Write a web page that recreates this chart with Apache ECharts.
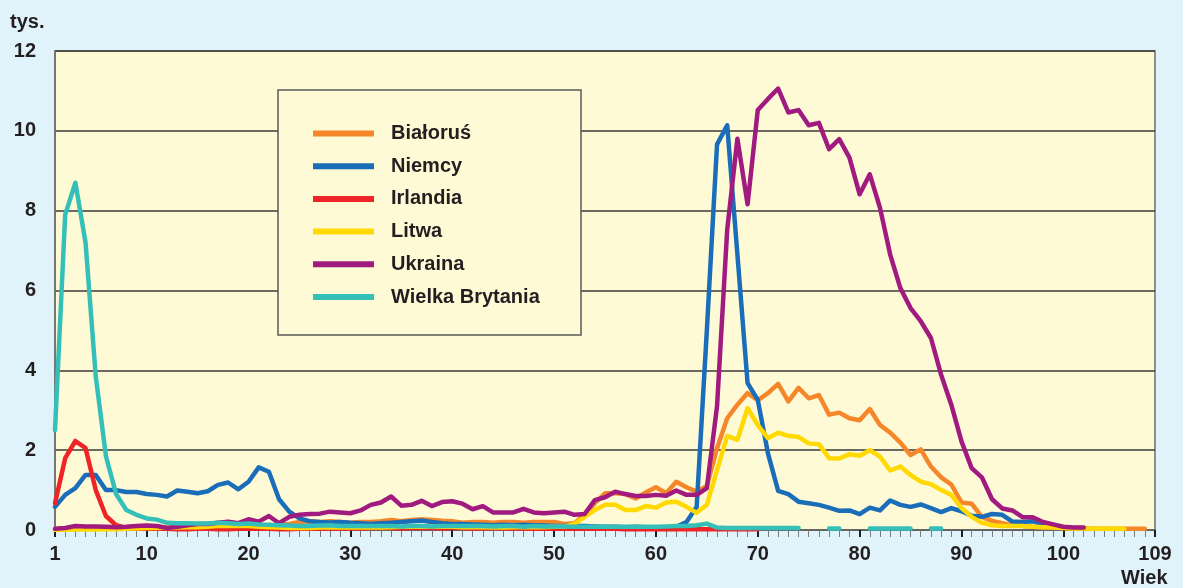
<!DOCTYPE html>
<html>
<head>
<meta charset="utf-8">
<script src="https://cdn.jsdelivr.net/npm/echarts@6/dist/echarts.min.js"></script>
<style>
  html, body { margin: 0; padding: 0; background: #e0f3fb; }
  #chart { width: 1183px; height: 588px; }
</style>
</head>
<body>
<div id="chart"></div>
<script>
// Age in years (1 … 108)
const ages = [
  1, 2, 3, 4, 5, 6, 7, 8, 9, 10,
  11, 12, 13, 14, 15, 16, 17, 18, 19, 20,
  21, 22, 23, 24, 25, 26, 27, 28, 29, 30,
  31, 32, 33, 34, 35, 36, 37, 38, 39, 40,
  41, 42, 43, 44, 45, 46, 47, 48, 49, 50,
  51, 52, 53, 54, 55, 56, 57, 58, 59, 60,
  61, 62, 63, 64, 65, 66, 67, 68, 69, 70,
  71, 72, 73, 74, 75, 76, 77, 78, 79, 80,
  81, 82, 83, 84, 85, 86, 87, 88, 89, 90,
  91, 92, 93, 94, 95, 96, 97, 98, 99, 100,
  101, 102, 103, 104, 105, 106, 107, 108
];

// Labelled ticks on the age axis and on the value axis (thousands)
const xTickLabels = [1, 10, 20, 30, 40, 50, 60, 70, 80, 90, 100, 109];
const yMax = 12;
const yStep = 2;

// Number of people, thousands, by age (null = no value)
const bialorus = [
  0.02, 0.03, 0.03, 0.04, 0.04, 0.03, 0.03, 0.04, 0.04, 0.05,
  0.05, 0.06, 0.06, 0.07, 0.07, 0.08, 0.08, 0.10, 0.10, 0.10,
  0.10, 0.10, 0.12, 0.15, 0.20, 0.22, 0.20, 0.22, 0.20, 0.18,
  0.20, 0.20, 0.22, 0.25, 0.22, 0.25, 0.27, 0.25, 0.23, 0.22,
  0.18, 0.20, 0.20, 0.18, 0.20, 0.20, 0.18, 0.20, 0.20, 0.20,
  0.15, 0.17, 0.38, 0.67, 0.92, 0.92, 0.90, 0.79, 0.94, 1.07,
  0.92, 1.21, 1.07, 0.96, 1.10, 2.05, 2.80, 3.14, 3.43, 3.25,
  3.43, 3.66, 3.22, 3.56, 3.30, 3.38, 2.89, 2.94, 2.80, 2.75,
  3.03, 2.63, 2.44, 2.19, 1.88, 2.02, 1.59, 1.32, 1.14, 0.69,
  0.66, 0.33, 0.23, 0.17, 0.12, 0.10, 0.08, 0.07, 0.06, 0.05,
  0.04, 0.04, 0.03, 0.03, 0.03, 0.03, 0.03, 0.03
];

const niemcy = [
  0.58, 0.88, 1.05, 1.38, 1.38, 1.00, 1.00, 0.95, 0.95, 0.90,
  0.88, 0.84, 0.99, 0.96, 0.92, 0.97, 1.13, 1.19, 1.02, 1.21,
  1.57, 1.46, 0.77, 0.46, 0.29, 0.22, 0.20, 0.19, 0.20, 0.18,
  0.17, 0.15, 0.17, 0.18, 0.20, 0.22, 0.24, 0.20, 0.17, 0.15,
  0.15, 0.14, 0.13, 0.12, 0.13, 0.12, 0.13, 0.12, 0.11, 0.10,
  0.10, 0.10, 0.10, 0.09, 0.08, 0.08, 0.07, 0.08, 0.07, 0.06,
  0.07, 0.08, 0.20, 0.58, 5.00, 9.66, 10.14, 6.90, 3.68, 3.26,
  1.92, 0.98, 0.90, 0.71, 0.67, 0.63, 0.56, 0.48, 0.49, 0.40,
  0.56, 0.49, 0.74, 0.63, 0.58, 0.64, 0.55, 0.45, 0.55, 0.47,
  0.36, 0.33, 0.40, 0.38, 0.21, 0.20, 0.22, 0.15
];

const irlandia = [
  0.67, 1.80, 2.23, 2.05, 1.00, 0.35, 0.12, 0.05, 0.03, 0.03,
  0.03, 0.03, 0.02, 0.02, 0.03, 0.03, 0.02, 0.02, 0.03, 0.03,
  0.03, 0.03, 0.02, 0.02, 0.03, 0.03, 0.03, 0.04, 0.04, 0.04,
  0.04, 0.05, 0.05, 0.05, 0.04, 0.05, 0.05, 0.05, 0.04, 0.05,
  0.05, 0.04, 0.04, 0.05, 0.04, 0.04, 0.04, 0.03, 0.03, 0.03,
  0.03, 0.03, 0.03, 0.03, 0.03, 0.03, 0.02, 0.02, 0.02, 0.02,
  0.02, 0.02, 0.02, 0.02, 0.02, 0.02, 0.02, 0.02, 0.02, 0.02
];

const litwa = [
  0.00, 0.00, 0.01, 0.01, 0.01, 0.02, 0.02, 0.03, 0.04, 0.05,
  0.05, 0.06, 0.06, 0.07, 0.07, 0.08, 0.10, 0.10, 0.10, 0.10,
  0.08, 0.07, 0.06, 0.05, 0.05, 0.05, 0.06, 0.07, 0.06, 0.06,
  0.06, 0.07, 0.06, 0.07, 0.08, 0.08, 0.09, 0.08, 0.08, 0.08,
  0.07, 0.07, 0.07, 0.06, 0.06, 0.07, 0.07, 0.07, 0.07, 0.08,
  0.08, 0.15, 0.33, 0.50, 0.63, 0.63, 0.50, 0.50, 0.60, 0.56,
  0.69, 0.71, 0.58, 0.43, 0.63, 1.50, 2.36, 2.26, 3.05, 2.63,
  2.30, 2.44, 2.36, 2.33, 2.17, 2.15, 1.80, 1.79, 1.90, 1.86,
  2.00, 1.84, 1.49, 1.59, 1.38, 1.21, 1.15, 1.00, 0.88, 0.55,
  0.33, 0.18, 0.12, 0.10, 0.10, 0.10, 0.08, 0.07, 0.06, 0.05,
  0.04, 0.04, 0.03, 0.03, 0.03, 0.03
];

const ukraina = [
  0.03, 0.05, 0.10, 0.09, 0.09, 0.08, 0.07, 0.08, 0.10, 0.11,
  0.10, 0.05, 0.08, 0.12, 0.15, 0.15, 0.18, 0.21, 0.17, 0.27,
  0.21, 0.35, 0.17, 0.33, 0.38, 0.40, 0.41, 0.46, 0.44, 0.42,
  0.49, 0.63, 0.69, 0.84, 0.61, 0.63, 0.73, 0.60, 0.70, 0.72,
  0.66, 0.52, 0.60, 0.44, 0.44, 0.44, 0.53, 0.44, 0.42, 0.44,
  0.46, 0.38, 0.40, 0.75, 0.82, 0.96, 0.90, 0.85, 0.85, 0.88,
  0.86, 0.99, 0.88, 0.88, 1.05, 3.10, 7.53, 9.80, 8.16, 10.52,
  10.80, 11.06, 10.46, 10.52, 10.14, 10.20, 9.54, 9.79, 9.33, 8.41,
  8.91, 8.07, 6.90, 6.06, 5.56, 5.23, 4.81, 3.89, 3.14, 2.22,
  1.55, 1.32, 0.77, 0.54, 0.49, 0.32, 0.32, 0.20, 0.14, 0.08,
  0.06, 0.06
];

const wielkaBrytania = [
  2.50, 7.90, 8.70, 7.20, 3.85, 1.85, 0.90, 0.50, 0.38, 0.29,
  0.26, 0.18, 0.17, 0.17, 0.16, 0.16, 0.18, 0.17, 0.15, 0.16,
  0.14, 0.13, 0.12, 0.11, 0.10, 0.10, 0.11, 0.12, 0.10, 0.10,
  0.10, 0.10, 0.10, 0.10, 0.09, 0.10, 0.10, 0.09, 0.10, 0.10,
  0.10, 0.10, 0.10, 0.09, 0.10, 0.10, 0.08, 0.10, 0.09, 0.09,
  0.09, 0.08, 0.08, 0.08, 0.08, 0.08, 0.08, 0.08, 0.08, 0.08,
  0.09, 0.10, 0.10, 0.12, 0.16, 0.06, 0.05, 0.05, 0.05, 0.05,
  0.05, 0.05, 0.05, 0.05, null, null, 0.04, 0.04, null, null,
  0.04, 0.04, 0.04, 0.04, 0.04, null, 0.04, 0.04
];

const seriesDefs = [
  { name: 'Białoruś',        values: bialorus,       color: '#f5862a' },
  { name: 'Niemcy',          values: niemcy,         color: '#1a6db8' },
  { name: 'Irlandia',        values: irlandia,       color: '#ee2426' },
  { name: 'Litwa',           values: litwa,          color: '#ffd900' },
  { name: 'Ukraina',         values: ukraina,        color: '#a01a80' },
  { name: 'Wielka Brytania', values: wielkaBrytania, color: '#35bfb9' }
];

const FONT = "'Liberation Sans', Arial, Helvetica, sans-serif";
const TEXT = '#231f20';
const WEIGHT = 'bold';
const PLOT_BG = '#fffad6';

// every whole year gets a small tick on the age axis
const allTicks = [];
for (let a = 1; a <= 109; a++) allTicks.push(a);

const chart = echarts.init(document.getElementById('chart'), null, { renderer: 'canvas' });

chart.setOption({
  backgroundColor: '#e0f3fb',
  animation: false,
  textStyle: { fontFamily: FONT },
  title: [
    { text: 'tys.', left: 10, top: 12, padding: 0,
      textStyle: { fontSize: 20, fontWeight: WEIGHT, color: TEXT, fontFamily: FONT } },
    { text: 'Wiek', left: 1121, top: 568, padding: 0,
      textStyle: { fontSize: 20, fontWeight: WEIGHT, color: TEXT, fontFamily: FONT } }
  ],
  grid: {
    left: 55, right: 28, top: 51, bottom: 58,
    show: true, backgroundColor: PLOT_BG, borderColor: '#6d6d6d', borderWidth: 1.5
  },
  xAxis: [
    {
      type: 'value', min: 1, max: 109, interval: 1,
      axisLine: { show: true, onZero: false, lineStyle: { color: '#6d6d6d', width: 1.5 } },
      axisTick: { show: true, customValues: allTicks, length: 7, lineStyle: { color: '#7a7a7a', width: 1 } },
      axisLabel: { customValues: xTickLabels, margin: 14, fontSize: 20, fontWeight: WEIGHT, color: TEXT, fontFamily: FONT },
      splitLine: { show: false }
    },
    {
      type: 'value', min: 1, max: 109, position: 'bottom', offset: 0,
      axisLine: { show: false },
      axisTick: { show: true, customValues: xTickLabels, length: 7, lineStyle: { color: '#1e1e1e', width: 2 } },
      axisLabel: { show: false },
      splitLine: { show: false }
    }
  ],
  yAxis: {
    type: 'value', min: 0, max: yMax, interval: yStep,
    axisLine: { show: true, lineStyle: { color: '#6d6d6d', width: 1.5 } },
    axisTick: { show: false },
    axisLabel: { margin: 19, fontSize: 20, fontWeight: WEIGHT, color: TEXT, fontFamily: FONT },
    splitLine: { show: true, lineStyle: { color: '#3a3a3a', width: 1.5 } }
  },
  graphic: [
    {
      type: 'rect', z: 3,
      shape: { x: 278, y: 90, width: 303, height: 245 },
      style: { fill: PLOT_BG, stroke: '#5a5a5a', lineWidth: 1.5 }
    }
  ],
  legend: {
    orient: 'vertical', left: 313, top: 123, padding: 0,
    itemWidth: 61, itemHeight: 6, itemGap: 11.7, icon: 'rect',
    selectedMode: false, z: 5,
    textStyle: { fontSize: 20, lineHeight: 21, fontWeight: WEIGHT, color: TEXT, fontFamily: FONT, padding: [0, 0, 0, 12] },
    data: seriesDefs.map(s => s.name)
  },
  series: seriesDefs.map(s => ({
    name: s.name,
    type: 'line',
    xAxisIndex: 0,
    color: s.color,
    showSymbol: false,
    symbol: 'none',
    connectNulls: false,
    lineStyle: { width: 4.5, color: s.color, cap: 'round', join: 'round' },
    data: ages.map((a, i) => {
      const v = s.values[i];
      return (v === null || v === undefined) ? [a, '-'] : [a, v];
    })
  }))
});
</script>
</body>
</html>
